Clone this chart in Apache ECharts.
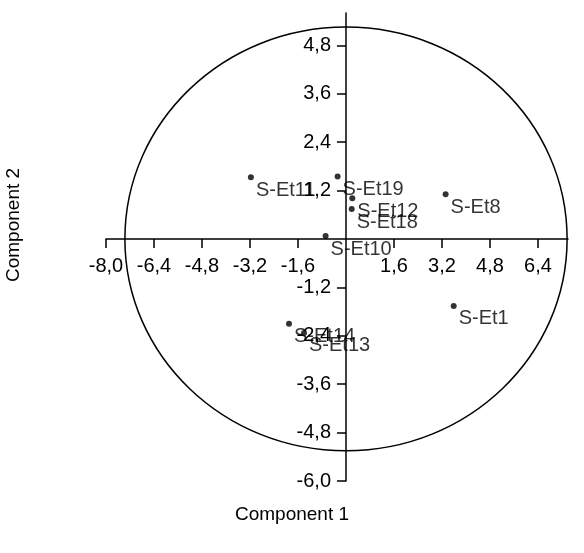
<!DOCTYPE html>
<html>
<head>
<meta charset="utf-8">
<script src="https://cdn.jsdelivr.net/npm/echarts@6/dist/echarts.min.js"></script>
<style>
  html, body { margin: 0; padding: 0; background: #fff; }
  #chart { width: 584px; height: 553px; }
</style>
</head>
<body>
<div id="chart"></div>
<script>
// Specimen scores on the first two principal components
const specimens = ['S-Et1', 'S-Et8', 'S-Et10', 'S-Et11', 'S-Et12', 'S-Et13', 'S-Et14', 'S-Et18', 'S-Et19'];
const comp1 = [3.59, 3.32, -0.68, -3.17, 0.21, -1.40, -1.90, 0.19, -0.28];
const comp2 = [-1.66, 1.11, 0.07, 1.53, 1.01, -2.33, -2.10, 0.74, 1.55];

// Confidence ellipse: centre (x, y) and semi-axes (x, y) in data units
const ellipseCentre = [0, 0];
const ellipseRadii = [7.37, 5.25];

// Axis ticks and labels
const xTicks = [-8.0, -6.4, -4.8, -3.2, -1.6, 1.6, 3.2, 4.8, 6.4];
const yTicks = [-6.0, -4.8, -3.6, -2.4, -1.2, 1.2, 2.4, 3.6, 4.8];
const xRange = [-8.0, 7.4];
const yRange = [-6.0, 5.6];

const FONT = 'Liberation Sans, Arial, sans-serif';
const fmt = v => Number(v).toFixed(1).replace('.', ',');

const W = 584, H = 553;
const grid = { left: 106, right: 16, top: 13, bottom: 72 };
const gw = W - grid.left - grid.right;
const gh = H - grid.top - grid.bottom;
// The axes cross at the origin: shift each axis from the grid edge to zero
const xAxisShift = -gh * (0 - yRange[0]) / (yRange[1] - yRange[0]);
const yAxisShift = -gw * (0 - xRange[0]) / (xRange[1] - xRange[0]);

const chart = echarts.init(document.getElementById('chart'));

const axisCommon = {
  type: 'value',
  splitLine: { show: false },
  axisLine: { onZero: false, lineStyle: { color: '#000', width: 1.5 } },
  axisTick: { show: true, length: 9, lineStyle: { color: '#000', width: 1.5 } },
  axisLabel: { color: '#000', fontSize: 20, fontFamily: FONT, formatter: fmt }
};

chart.setOption({
  animation: false,
  backgroundColor: '#fff',
  grid: Object.assign({ containLabel: false }, grid),
  xAxis: Object.assign({}, axisCommon, {
    position: 'bottom',
    offset: xAxisShift,
    min: xRange[0], max: xRange[1], interval: 1.6,
    axisTick: Object.assign({}, axisCommon.axisTick, { customValues: xTicks }),
    axisLabel: Object.assign({}, axisCommon.axisLabel, { customValues: xTicks, margin: 18 })
  }),
  yAxis: Object.assign({}, axisCommon, {
    position: 'left',
    offset: yAxisShift,
    min: yRange[0], max: yRange[1], interval: 1.2,
    axisTick: Object.assign({}, axisCommon.axisTick, { customValues: yTicks }),
    axisLabel: Object.assign({}, axisCommon.axisLabel, { customValues: yTicks, margin: 15 })
  }),
  graphic: [
    { type: 'text', left: 'center', top: 505, style: { text: 'Component 1', fontSize: 19, fontFamily: FONT, fill: '#000' } },
    { type: 'text', x: 4, y: 282, rotation: Math.PI / 2, style: { text: 'Component 2', fontSize: 19, fontFamily: FONT, fill: '#000' } }
  ],
  series: [
    {
      type: 'custom',
      silent: true,
      clip: false,
      data: [[ellipseCentre[0], ellipseCentre[1], ellipseRadii[0], ellipseRadii[1]]],
      renderItem: function (params, api) {
        const c = api.coord([api.value(0), api.value(1)]);
        const s = api.size([api.value(2), api.value(3)]);
        return {
          type: 'ellipse',
          shape: { cx: c[0], cy: c[1], rx: s[0], ry: s[1] },
          style: { fill: 'none', stroke: '#000', lineWidth: 1.5 }
        };
      }
    },
    {
      type: 'scatter',
      symbol: 'circle',
      symbolSize: 6,
      itemStyle: { color: '#000' },
      data: specimens.map((n, i) => ({ name: n, value: [comp1[i], comp2[i]] })),
      label: {
        show: true,
        position: 'right',
        distance: 2,
        offset: [0, 13],
        formatter: p => p.name,
        color: '#000',
        fontSize: 20,
        fontFamily: FONT
      }
    }
  ]
});
</script>
</body>
</html>
